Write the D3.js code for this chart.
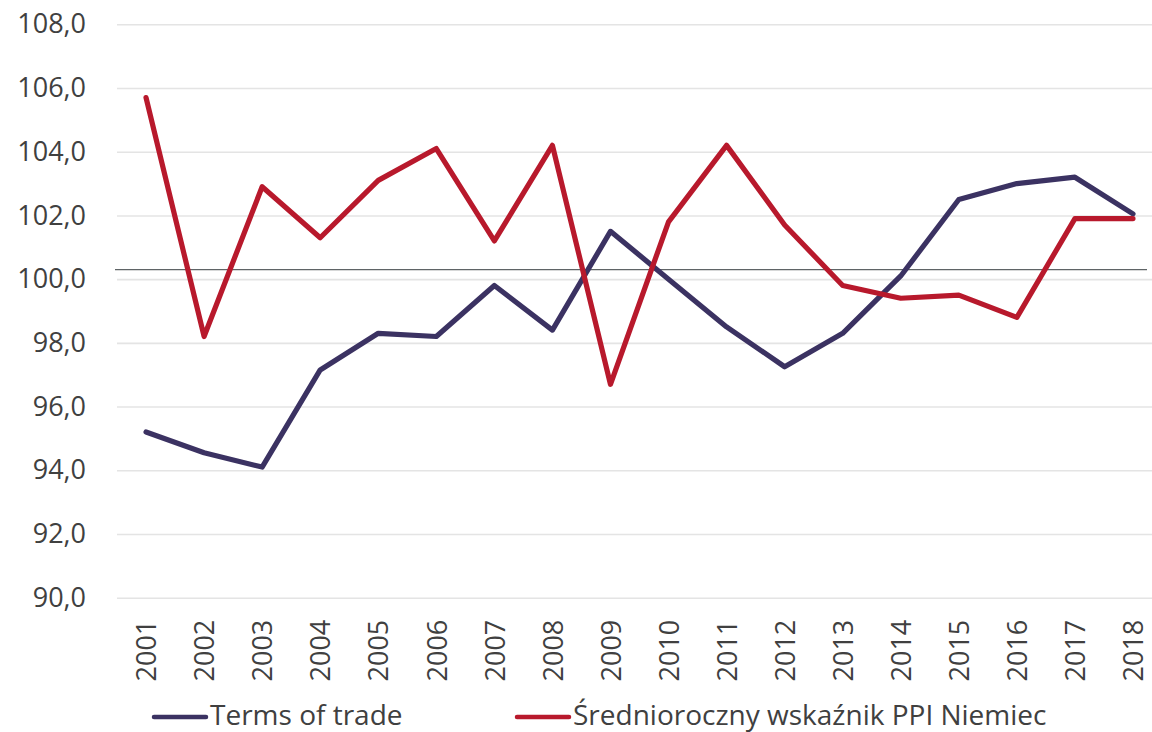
<!DOCTYPE html>
<html>
<head>
<meta charset="utf-8">
<script src="https://cdn.jsdelivr.net/npm/d3@7"></script>
<style>
  body { margin: 0; background: #fff; }
  text { font-family: "Open Sans", "Noto Sans", sans-serif; fill: #404040; }
</style>
</head>
<body>
<div class="canvas"></div>
<script>
const years = ['2001', '2002', '2003', '2004', '2005', '2006', '2007', '2008', '2009',
    '2010', '2011', '2012', '2013', '2014', '2015', '2016', '2017', '2018'];
const termsOfTrade = [95.2, 94.55, 94.1, 97.15, 98.3, 98.2, 99.8, 98.4, 101.5,
    100.0, 98.5, 97.25, 98.3, 100.1, 102.5, 103.0, 103.2, 102.05];
const ppiGermany = [105.7, 98.2, 102.9, 101.3, 103.1, 104.1, 101.2, 104.2, 96.7,
    101.8, 104.2, 101.7, 99.8, 99.4, 99.5, 98.8, 101.9, 101.9];
const seriesNames = ['Terms of trade', 'Średnioroczny wskaźnik PPI Niemiec'];
const yTicks = [90, 92, 94, 96, 98, 100, 102, 104, 106, 108];
const refValue = 100.3;

const dims = {width: 1152, height: 732};
const plot = {left: 117, right: 1162, top: 24.3, bottom: 597.7};
const colours = ['#3b3262', '#b8192c'];

const svg = d3.select('.canvas')
    .append('svg')
    .attr('width', dims.width)
    .attr('height', dims.height);

const x = d3.scalePoint()
    .domain(years)
    .range([plot.left, plot.right])
    .padding(0.5);

const y = d3.scaleLinear()
    .domain([90, 108])
    .range([plot.bottom, plot.top]);

// gridlines + y labels
const yAxis = svg.append('g')
    .attr('transform', `translate(${plot.left}, 0)`)
    .call(d3.axisLeft(y)
        .tickValues(yTicks)
        .tickSize(-(dims.width - plot.left))
        .tickPadding(31)
        .tickFormat(d => d3.format('.1f')(d).replace('.', ',')));
yAxis.select('.domain').remove();
yAxis.selectAll('.tick line').attr('stroke', '#e4e4e4').attr('stroke-width', 1.6);
yAxis.selectAll('.tick text')
    .attr('font-size', 27)
    .attr('fill', '#404040')
    .style('font-family', '"Open Sans", sans-serif');

// x labels, rotated
const xAxis = svg.append('g')
    .attr('transform', `translate(0, ${plot.bottom})`)
    .call(d3.axisBottom(x).tickSize(0).tickPadding(0));
xAxis.select('.domain').remove();
xAxis.selectAll('.tick text')
    .attr('font-size', 27)
    .attr('fill', '#404040')
    .style('font-family', '"Open Sans", sans-serif')
    .attr('text-anchor', 'end')
    .attr('transform', 'rotate(-90)')
    .attr('x', -22)
    .attr('y', 0)
    .attr('dy', '0.36em');

// reference line
svg.append('line')
    .attr('x1', plot.left - 2)
    .attr('x2', 1147)
    .attr('y1', y(refValue))
    .attr('y2', y(refValue))
    .attr('stroke', '#5f6466')
    .attr('stroke-width', 1.3);

const line = d3.line()
    .x((d, i) => x(years[i]))
    .y(d => y(d));

[termsOfTrade, ppiGermany].forEach((series, k) => {
    svg.append('path')
        .datum(series)
        .attr('fill', 'none')
        .attr('stroke', colours[k])
        .attr('stroke-width', 5.2)
        .attr('stroke-linejoin', 'round')
        .attr('stroke-linecap', 'round')
        .attr('d', line);
});

// legend
const legendPos = [152, 515];
const legend = svg.append('g');
seriesNames.forEach((name, k) => {
    const item = legend.append('g').attr('transform', `translate(${legendPos[k]}, 717)`);
    item.append('line')
        .attr('x1', 2).attr('x2', 54)
        .attr('stroke', colours[k])
        .attr('stroke-width', 4.5)
        .attr('stroke-linecap', 'round');
    item.append('text')
        .attr('x', 58)
        .attr('dy', '0.3em')
        .attr('font-size', 28)
        .text(name);
});
</script>
</body>
</html>
